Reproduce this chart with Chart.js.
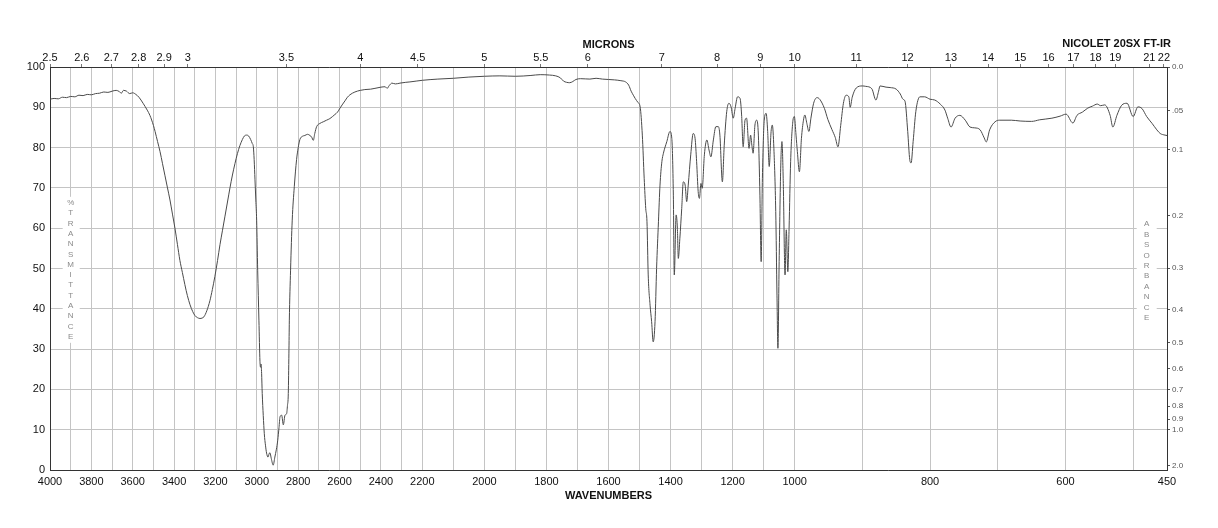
<!DOCTYPE html>
<html>
<head>
<meta charset="utf-8">
<style>
  html, body { margin: 0; padding: 0; background: #ffffff; }
  #wrap { width: 1218px; height: 528px; }
</style>
<script src="https://cdn.jsdelivr.net/npm/chart.js@4/dist/chart.umd.min.js"></script>
</head>
<body>
<div id="wrap"><canvas id="c" width="1218" height="528"></canvas></div>
<script>
// ---------------- data ----------------
const WAVENUMBERS = [
  4000,3980,3960,3940,3920,3900,3880,3860,3840,3820,3800,3780,3760,3740,3720,3700,3680,3665,3655,3645,3630,3615,3600,3585,3570,
  3550,3530,3517,3500,3492,3480,3468,3456,3444,3432,3420,3408,3396,3384,3372,3360,3348,3336,3323,3310,3299,3287,3275,3265,3256,
  3242,3227,3215,3203,3190,3178,3166,3154,3142,3130,3118,3106,3094,3082,3070,3060,3049,3040,3030,3022,3017,3013,3009,3005,3001,
  2996,2990,2985,2982,2980,2977,2974,2969,2964,2958,2953,2946,2941,2937,2930,2921,2913,2906,2899,2893,2888,2880,2872,2864,2856,
  2852,2848,2845,2843,2837,2829,2819,2808,2800,2792,2780,2768,2755,2743,2735,2727,2720,2711,2695,2679,2663,2647,2623,2610,2598,
  2585,2574,2562,2550,2526,2500,2478,2450,2429,2400,2380,2370,2360,2347,2330,2308,2280,2260,2230,2200,2150,2100,2050,2000,1950,
  1900,1850,1820,1790,1770,1755,1745,1735,1725,1715,1705,1690,1660,1640,1620,1600,1580,1560,1545,1535,1527,1520,1514,1505,1498,
  1491,1485,1480,1476,1472,1466,1461,1456,1450,1445,1439,1434,1428,1423,1412,1402,1396,1391,1388,1382,1378,1375,1370,1364,1359,
  1353,1348,1343,1335,1327,1321,1316,1311,1307,1302,1298,1291,1283,1276,1270,1262,1254,1246,1241,1233,1227,1219,1212,1205,1198,
  1192,1184,1176,1171,1166,1160,1155,1147,1142,1138,1134,1128,1122,1117,1112,1108,1104,1098,1092,1087,1082,1076,1072,1067,1061,
  1057,1054,1050,1045,1041,1037,1031,1027,1022,1018,1013,1006,1001,998,996,993,990,987,985,982,979,976,972,967,963,
  956,951,945,940,936,932,928,924,920,918,915,909,900,895,886,880,876,874,865,859,850,844,840,837,833,
  830,828,825,821,815,808,800,793,785,778,774,769,763,756,748,741,734,726,720,717,712,704,697,680,667,
  650,638,620,608,599,589,583,575,567,560,553,548,542,534,530,524,517,509,500,493,487,480,472,465,460,
  453,450
];
const TRANSMITTANCE = [
  92.0,92.2,92.1,92.5,92.4,92.7,92.6,93.0,92.9,93.2,93.1,93.4,93.5,93.8,93.7,94.0,94.2,93.9,93.5,94.2,94.0,93.4,93.6,93.2,92.5,
  91.0,89.3,88.0,85.5,84.0,81.5,79.0,76.0,73.0,70.0,67.0,63.5,60.0,56.0,52.0,49.0,46.0,43.3,41.0,39.3,38.3,37.8,37.6,37.7,38.0,
  39.5,42.0,44.8,48.0,52.0,56.0,59.5,63.0,66.5,70.0,73.2,76.0,78.5,80.5,82.0,82.9,83.1,82.9,82.0,81.0,80.2,77.0,72.0,67.0,62.0,
  49.6,37.2,27.0,25.5,26.3,24.0,19.0,13.5,9.0,6.0,4.2,3.2,4.0,4.3,2.8,1.2,3.2,5.0,7.4,10.5,13.2,13.6,11.2,13.6,14.0,
  16.0,19.0,29.0,37.0,49.6,62.0,70.3,77.0,80.0,82.0,82.8,83.0,83.3,83.0,82.6,81.8,83.5,85.2,86.0,86.4,86.8,87.2,88.2,88.8,89.8,
  90.8,91.6,92.5,93.1,93.8,94.2,94.4,94.5,94.7,95.0,95.1,94.7,95.4,96.0,95.8,96.0,96.2,96.3,96.5,96.7,97.0,97.2,97.5,97.7,97.8,
  97.7,97.9,98.1,98.0,97.8,97.3,96.5,96.2,96.1,96.4,96.9,97.1,97.0,97.2,97.0,96.9,96.8,96.6,96.3,95.5,94.0,93.0,92.2,91.2,90.1,
  83.1,72.4,64.9,61.6,48.4,40.9,36.8,31.8,36.8,50.0,61.6,70.7,76.5,78.6,81.5,84.0,82.3,68.2,48.4,63.3,60.0,52.5,57.5,64.9,71.5,
  70.7,66.6,70.7,78.2,83.5,82.3,76.5,69.1,67.4,71.1,69.9,78.2,81.9,79.4,77.7,81.9,85.2,85.2,83.1,71.5,80.6,88.9,91.0,90.1,87.3,
  89.7,92.6,92.2,88.1,80.2,86.8,87.3,79.8,83.1,80.6,78.6,85.6,86.8,83.1,68.2,51.7,72.4,86.8,88.5,84.0,75.3,84.0,85.6,79.8,64.1,
  43.4,30.2,51.7,74.9,81.5,72.4,48.4,59.6,49.2,60.0,76.5,86.4,87.7,83.1,79.0,74.0,82.3,86.8,88.1,86.0,84.0,87.3,91.0,92.4,92.0,
  89.7,87.0,84.5,82.5,80.2,85.5,91.0,93.0,92.6,90.0,92.5,94.8,95.3,95.2,94.6,91.8,94.0,95.3,95.0,94.9,94.5,93.3,92.0,91.5,84.0,
  77.0,76.2,81.5,89.0,92.6,92.6,92.0,91.8,90.8,89.3,87.3,85.1,87.3,88.0,86.8,85.1,84.9,84.4,82.4,81.4,84.4,86.4,86.8,86.8,86.6,
  86.5,86.9,87.3,87.8,88.3,86.1,88.0,88.8,89.8,90.3,90.8,90.4,90.6,88.0,85.1,88.0,90.5,91.0,87.7,90.1,89.7,87.7,86.0,84.4,83.5,
  83.1,83.0
];
// bottom axis: grid every 100 cm-1, labels every 200 plus 450
const WN_TICKS = [4000,3900,3800,3700,3600,3500,3400,3300,3200,3100,3000,2900,2800,2700,2600,2500,2400,2300,2200,2100,2000,
  1900,1800,1700,1600,1500,1400,1300,1200,1100,1000,900,800,700,600,500,450];
const WN_LABELLED = [4000,3800,3600,3400,3200,3000,2800,2600,2400,2200,2000,1800,1600,1400,1200,1000,800,600,450];
// top axis (microns)
const MICRON_TICKS = [2.5,2.6,2.7,2.8,2.9,3,3.5,4,4.5,5,5.5,6,7,8,9,10,11,12,13,14,15,16,17,18,19,21,22];
const MICRON_LABELS = ['2.5','2.6','2.7','2.8','2.9','3','3.5','4','4.5','5','5.5','6','7','8','9','10','11','12','13','14','15','16','17','18','19','21','22'];
// right axis (absorbance)
const ABS_TICKS = [0,0.05,0.1,0.2,0.3,0.4,0.5,0.6,0.7,0.8,0.9,1.0,2.0];
const ABS_LABELS = ['0.0','.05','0.1','0.2','0.3','0.4','0.5','0.6','0.7','0.8','0.9','1.0','2.0'];
// piecewise-linear wavenumber axis: three equal-width segments
const WN_BREAKS = [4000, 2200, 1000, 450];

// ---------------- custom scale ----------------
function wnToDecimal(wn) {
  const n = WN_BREAKS.length - 1;
  for (let i = 0; i < n; i++) {
    const a = WN_BREAKS[i], b = WN_BREAKS[i + 1];
    if (wn >= b || i === n - 1) return (i + (a - wn) / (a - b)) / n;
  }
}
function decimalToWn(d) {
  const n = WN_BREAKS.length - 1;
  let i = Math.min(n - 1, Math.max(0, Math.floor(d * n)));
  const a = WN_BREAKS[i], b = WN_BREAKS[i + 1];
  return a - (d * n - i) * (a - b);
}
class WavenumberScale extends Chart.LinearScale {
  getPixelForValue(v) {
    if (v === null || v === undefined) return NaN;
    return this.getPixelForDecimal(wnToDecimal(v));
  }
  getValueForPixel(p) {
    return decimalToWn(this.getDecimalForPixel(p));
  }
}
WavenumberScale.id = 'wavenumber';
Chart.register(WavenumberScale);

const FONT = "'Liberation Sans', Arial, Helvetica, sans-serif";
const GRID = '#c4c4c4';
const AXIS = '#333333';

// ---------------- decorations ----------------
const decorations = {
  id: 'decorations',
  afterDraw(chart) {
    const { ctx, scales } = chart;
    ctx.save();
    const drawStack = (text, x, y0, step, box) => {
      ctx.fillStyle = '#ffffff';
      ctx.fillRect(box[0], box[1], box[2], box[3]);
      ctx.fillStyle = '#8a8a8a';
      ctx.font = '8px ' + FONT;
      ctx.textAlign = 'center';
      ctx.textBaseline = 'middle';
      for (let i = 0; i < text.length; i++) ctx.fillText(text[i], x, y0 + i * step);
    };
    const xl = scales.x.getPixelForValue(3900);
    const yl = scales.y.getPixelForValue(66.3);
    drawStack('%TRANSMITTANCE', xl, yl, 10.3, [xl - 8, yl - 6, 17, 146]);
    const xr = scales.x.getPixelForValue(480);
    const yr = scales.y.getPixelForValue(61.0);
    drawStack('ABSORBANCE', xr, yr, 10.4, [xr - 10, yr - 6, 20, 106]);
    ctx.fillStyle = '#111111';
    ctx.font = 'bold 11px ' + FONT;
    ctx.textAlign = 'right';
    ctx.textBaseline = 'middle';
    ctx.fillText('NICOLET 20SX FT-IR', chart.chartArea.right + 4, 44);
    ctx.restore();
  }
};

const points = WAVENUMBERS.map((w, i) => ({ x: w, y: TRANSMITTANCE[i] }));

new Chart(document.getElementById('c'), {
  type: 'line',
  data: {
    datasets: [{
      data: points,
      borderColor: '#4a4a4a',
      borderWidth: 1,
      pointRadius: 0,
      cubicInterpolationMode: 'monotone',
      fill: false
    }]
  },
  options: {
    responsive: false,
    animation: false,
    events: [],
    devicePixelRatio: 1,
    layout: { padding: 0 },
    plugins: { legend: { display: false }, tooltip: { enabled: false }, title: { display: false } },
    scales: {
      x: {
        type: 'wavenumber', axis: 'x', position: 'bottom', min: 450, max: 4000,
        afterBuildTicks: s => { s.ticks = WN_TICKS.map(v => ({ value: v })); },
        afterFit: s => { s.height = 58; },
        ticks: {
          autoSkip: false, maxRotation: 0, padding: 5, color: '#111',
          font: { family: FONT, size: 11 },
          callback: v => WN_LABELLED.includes(v) ? String(v) : ''
        },
        grid: { color: GRID, lineWidth: 1, drawTicks: false },
        border: { display: true, color: AXIS, width: 1 },
        title: { display: true, text: 'WAVENUMBERS', color: '#111', font: { family: FONT, size: 11, weight: 'bold' }, padding: { top: 0, bottom: 25 } }
      },
      x2: {
        type: 'wavenumber', axis: 'x', position: 'top', min: 450, max: 4000,
        afterBuildTicks: s => { s.ticks = MICRON_TICKS.map(m => ({ value: 10000 / m })); },
        afterFit: s => { s.height = 67; },
        ticks: {
          autoSkip: false, maxRotation: 0, padding: -1, color: '#111',
          font: { family: FONT, size: 11 },
          callback: (v, i) => MICRON_LABELS[i]
        },
        grid: { drawOnChartArea: false, drawTicks: true, tickLength: 3, tickColor: '#777' },
        border: { display: true, color: AXIS, width: 1 },
        title: { display: true, text: 'MICRONS', color: '#111', font: { family: FONT, size: 11, weight: 'bold' }, padding: { top: 38, bottom: 0 } }
      },
      y: {
        type: 'linear', axis: 'y', position: 'left', min: 0, max: 100,
        afterFit: s => { s.width = 50; },
        ticks: { stepSize: 10, padding: 5, color: '#111', font: { family: FONT, size: 11 } },
        grid: { color: GRID, lineWidth: 1, drawTicks: false },
        border: { display: true, color: AXIS, width: 1 }
      },
      y2: {
        type: 'linear', axis: 'y', position: 'right', min: 0, max: 100,
        afterBuildTicks: s => { s.ticks = ABS_TICKS.map(a => ({ value: 100 * Math.pow(10, -a) })); },
        afterFit: s => { s.width = 51; },
        ticks: {
          autoSkip: false, padding: 2, color: '#555',
          font: { family: FONT, size: 8 },
          callback: (v, i) => ABS_LABELS[i]
        },
        grid: { drawOnChartArea: false, drawTicks: true, tickLength: 3, tickColor: '#555' },
        border: { display: true, color: AXIS, width: 1 }
      }
    }
  },
  plugins: [decorations]
});
</script>
</body>
</html>
